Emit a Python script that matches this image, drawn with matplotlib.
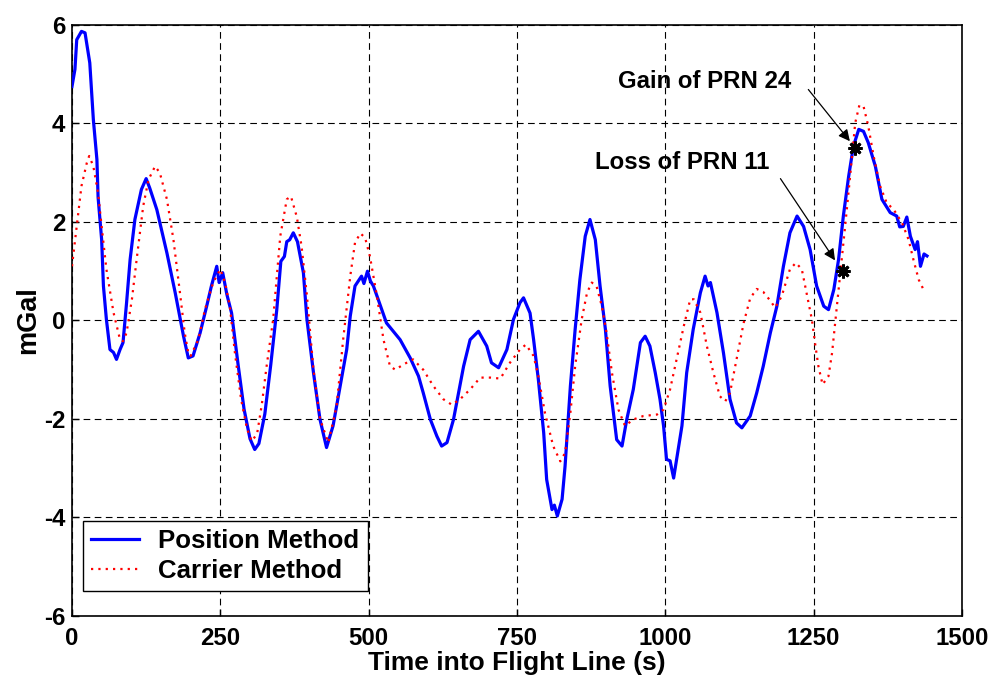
import matplotlib
matplotlib.use('Agg')
import matplotlib.pyplot as plt
import numpy as np

# Position method (blue solid)
pos_t = [0, 5, 8, 16, 22, 30, 36, 42, 44, 50, 53, 58, 64, 70, 75, 81, 86, 92, 98, 106,
         117, 125, 131, 143, 160, 174, 188, 196, 204, 216, 227, 235, 244, 248, 254, 261, 269, 280, 290, 300,
         308, 315, 325, 335, 345, 352, 358, 362, 367, 373, 380, 390, 396, 407, 418, 429, 440, 452, 463, 469,
         477, 488, 492, 498, 503, 508, 516, 530, 553, 570, 584, 592, 604, 615, 623, 632, 643, 660, 671, 685,
         699, 707, 719, 733, 744, 755, 761, 772, 778, 786, 795, 800, 809, 813, 818, 826, 831, 840, 848, 856,
         865, 873, 882, 890, 899, 907, 918, 927, 935, 946, 958, 966, 974, 983, 991, 997, 1002, 1008, 1014, 1019,
         1028, 1036, 1047, 1059, 1067, 1072, 1076, 1087, 1098, 1109, 1120, 1129, 1143, 1154, 1165, 1177, 1188, 1199, 1210, 1222,
         1233, 1244, 1255, 1267, 1275, 1284, 1292, 1300, 1309, 1317, 1326, 1334, 1342, 1354, 1365, 1379, 1390, 1395, 1401, 1407,
         1413, 1421, 1425, 1430, 1436, 1441]
pos_g = [4.75, 5.1, 5.7, 5.87, 5.84, 5.23, 4.08, 3.27, 2.5, 1.64, 0.70, 0.02, -0.59, -0.65, -0.79, -0.59, -0.45, 0.36, 1.24, 2.05,
         2.66, 2.88, 2.69, 2.25, 1.37, 0.56, -0.32, -0.76, -0.72, -0.25, 0.29, 0.70, 1.1, 0.77, 0.97, 0.53, 0.15, -0.9, -1.8, -2.4,
         -2.62, -2.5, -1.9, -0.9, 0.2, 1.2, 1.3, 1.6, 1.64, 1.78, 1.6, 0.97, 0.02, -1.06, -2.01, -2.58, -2.14, -1.33, -0.59, 0.09,
         0.70, 0.90, 0.75, 1.0, 0.8, 0.70, 0.43, -0.05, -0.39, -0.76, -1.13, -1.47, -2.01, -2.35, -2.55, -2.48, -2.01, -0.93, -0.39, -0.22,
         -0.52, -0.86, -0.96, -0.59, 0.02, 0.36, 0.46, 0.15, -0.39, -1.2, -2.28, -3.23, -3.84, -3.75, -3.97, -3.63, -2.96, -1.33, -0.18, 0.83,
         1.71, 2.05, 1.64, 0.70, -0.18, -1.33, -2.42, -2.55, -2.01, -1.40, -0.45, -0.32, -0.52, -1.06, -1.60, -2.14, -2.82, -2.85, -3.2, -2.82,
         -2.14, -1.06, -0.18, 0.56, 0.90, 0.7, 0.77, 0.16, -0.66, -1.6, -2.08, -2.18, -1.94, -1.47, -0.93, -0.25, 0.29, 1.10, 1.78, 2.12,
         1.91, 1.44, 0.70, 0.29, 0.22, 0.63, 1.24, 2.12, 2.93, 3.54, 3.88, 3.84, 3.61, 3.13, 2.46, 2.19, 2.12, 1.9, 1.91, 2.1,
         1.71, 1.44, 1.6, 1.10, 1.35, 1.31]

# Carrier method (red dotted)
car_t = [0, 8, 16, 25, 29, 36, 44, 50, 58, 70, 81, 86, 92, 101, 109, 120, 129, 140, 148, 160,
         171, 182, 190, 196, 200, 213, 224, 238, 250, 258, 266, 275, 285, 295, 303, 312, 320, 328, 339, 351,
         362, 369, 379, 387, 396, 407, 418, 432, 446, 457, 469, 477, 486, 494, 502, 514, 525, 536, 545, 559,
         575, 592, 609, 626, 640, 654, 671, 688, 705, 722, 738, 755, 765, 778, 786, 797, 811, 823, 831, 840,
         848, 859, 868, 876, 884, 893, 901, 910, 921, 932, 946, 963, 986, 997, 1008, 1019, 1031, 1042, 1048, 1059,
         1070, 1081, 1092, 1101, 1109, 1120, 1132, 1143, 1154, 1165, 1177, 1185, 1196, 1210, 1220, 1230, 1238, 1247, 1253, 1258,
         1265, 1275, 1281, 1288, 1295, 1303, 1312, 1320, 1327, 1334, 1342, 1351, 1362, 1373, 1385, 1399, 1410, 1418, 1427, 1435,
         1439]
car_g = [1.10, 1.91, 2.73, 3.2, 3.34, 3.13, 2.59, 1.91, 1.04, 0.16, -0.39, -0.42, -0.25, 0.43, 1.24, 2.32, 2.86, 3.13, 3.0, 2.46,
         1.64, 0.56, -0.25, -0.66, -0.72, -0.39, 0.22, 0.77, 1.04, 0.77, 0.29, -0.7, -1.6, -2.2, -2.45, -2.3, -1.7, -0.93, 0.02, 1.71,
         2.46, 2.52, 2.1, 1.5, 0.5, -1.0, -2.0, -2.48, -1.74, -0.39, 0.90, 1.58, 1.77, 1.68, 1.31, 0.49, -0.39, -0.93, -1.0, -0.89,
         -0.79, -1.0, -1.33, -1.6, -1.71, -1.60, -1.40, -1.16, -1.16, -1.18, -0.86, -0.59, -0.49, -0.72, -1.13, -1.87, -2.55, -2.86, -2.69, -1.87,
         -0.93, 0.02, 0.56, 0.77, 0.70, 0.29, -0.25, -1.06, -1.81, -2.14, -2.01, -1.94, -1.91, -1.81, -1.40, -0.79, -0.12, 0.43, 0.43, 0.16,
         -0.52, -1.06, -1.54, -1.64, -1.47, -0.79, -0.05, 0.45, 0.64, 0.58, 0.40, 0.26, 0.49, 1.04, 1.17, 1.04, 0.56, 0.02, -0.52, -0.93,
         -1.30, -1.13, -0.66, 0.16, 0.97, 1.91, 3.0, 4.01, 4.37, 4.35, 3.95, 3.34, 2.73, 2.39, 2.25, 1.98, 1.64, 1.24, 0.83, 0.63,
         0.6]

# satellite events
event_t = [1300, 1320]
event_g = [1.0, 3.5]
event_labels = ['Loss of PRN 11', 'Gain of PRN 24']
label_xy = [(1028, 3.2), (1067, 4.85)]
arrow_tail = [(1194, 2.88), (1241, 4.69)]
arrow_head = [(1286, 1.22), (1311, 3.64)]

xticks = [0, 250, 500, 750, 1000, 1250, 1500]
yticks = [-6, -4, -2, 0, 2, 4, 6]

plt.rcParams['font.family'] = ['Liberation Sans', 'DejaVu Sans']
plt.rcParams['font.weight'] = 'bold'
plt.rcParams['axes.unicode_minus'] = False

fig = plt.figure(figsize=(9.97, 6.88), dpi=100)
ax = fig.add_axes([0.0722, 0.1047, 0.8927, 0.859])

ax.plot(pos_t, pos_g, color='#0000ff', lw=2.3, label='Position Method', zorder=3)
ax.plot(car_t, car_g, color='#ff0000', lw=1.6, linestyle=(0, (1, 2.3)), label='Carrier Method', zorder=3)
ax.plot(event_t, event_g, linestyle='none', marker=(8, 2, 0), markersize=10,
        markeredgewidth=2, color='black', zorder=4)

for lab, (tx, ty), tail, head in zip(event_labels, label_xy, arrow_tail, arrow_head):
    ax.text(tx, ty, lab, fontsize=17.3, fontweight='bold', ha='center', va='center')
    ax.annotate('', xy=head, xytext=tail,
                arrowprops=dict(arrowstyle='-|>', color='black', lw=0.9,
                                shrinkA=0, shrinkB=0, mutation_scale=17))

ax.set_xlim(0, 1500)
ax.set_ylim(-6, 6)
ax.set_xticks(xticks)
ax.set_yticks(yticks)
ax.tick_params(direction='in', labelsize=17.3, length=5, width=1)
ax.tick_params(axis='x', pad=8)
ax.tick_params(axis='y', pad=5)
for lab in ax.get_xticklabels() + ax.get_yticklabels():
    lab.set_fontweight('bold')
ax.grid(True, color='black', linestyle=(0, (6, 4)), lw=0.8)
for s in ax.spines.values():
    s.set_linewidth(1.2)

ax.set_xlabel('Time into Flight Line (s)', fontsize=19, fontweight='bold', labelpad=1)
ax.set_ylabel('mGal', fontsize=19.5, fontweight='bold', labelpad=2)

leg = ax.legend(loc='lower left', bbox_to_anchor=(0.012, 0.042), fontsize=18.6,
                fancybox=False, framealpha=1, edgecolor='black', borderpad=0.33,
                handlelength=1.85, handletextpad=0.75, labelspacing=0.2, borderaxespad=0)
leg.get_frame().set_linewidth(1.0)

fig.savefig('out.png', dpi=100)
